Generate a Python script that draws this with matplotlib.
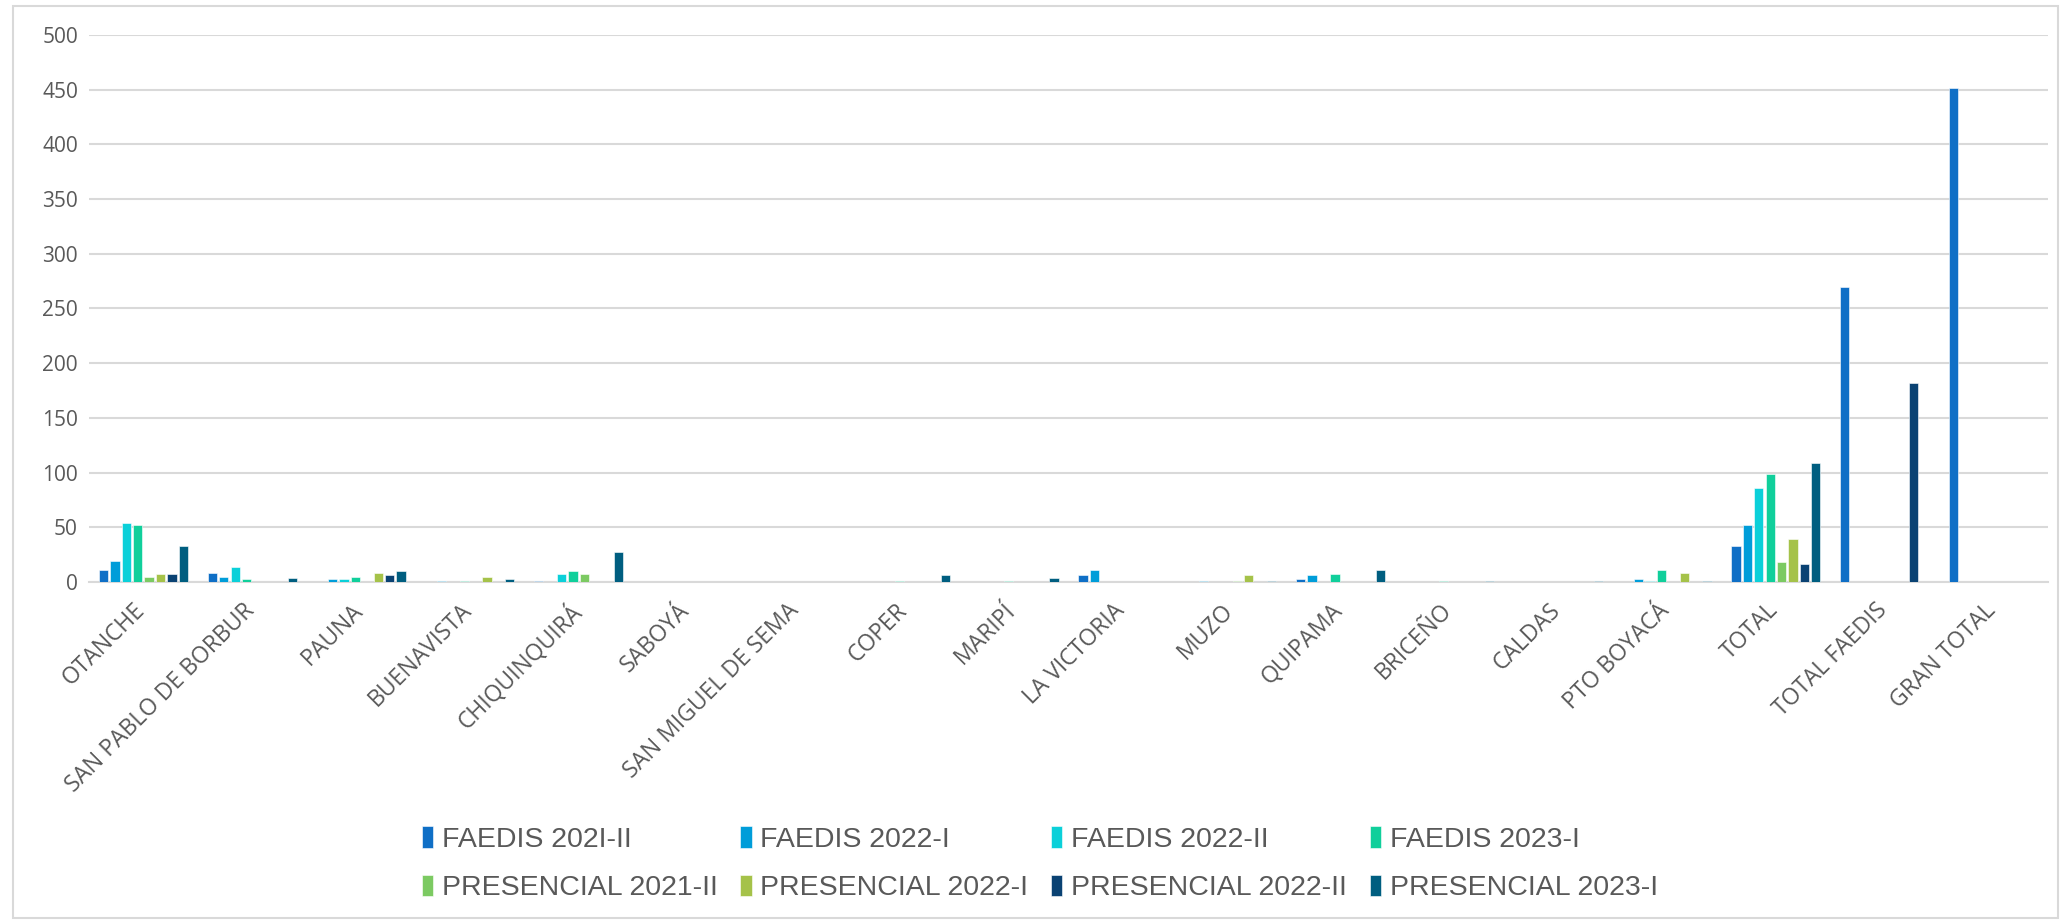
import numpy as np
import matplotlib.pyplot as plt
import matplotlib.transforms as mtransforms
from matplotlib.patches import Rectangle

categories = ["OTANCHE", "SAN PABLO DE BORBUR", "PAUNA", "BUENAVISTA", "CHIQUINQUIRÁ",
              "SABOYÁ", "SAN MIGUEL DE SEMA", "COPER", "MARIPÍ", "LA VICTORIA", "MUZO",
              "QUIPAMA", "BRICEÑO", "CALDAS", "PTO BOYACÁ", "TOTAL", "TOTAL FAEDIS",
              "GRAN TOTAL"]

series_names = ["FAEDIS 202I-II", "FAEDIS 2022-I", "FAEDIS 2022-II", "FAEDIS 2023-I",
                "PRESENCIAL 2021-II", "PRESENCIAL 2022-I", "PRESENCIAL 2022-II",
                "PRESENCIAL 2023-I"]

faedis_2021_2 = [11, 8, 0, 0, 1, 0, 0, 0, 0, 6, 0, 3, 0, 0, 0, 33, 270, 452]
faedis_2022_1 = [19, 5, 3, 1, 0, 0, 0, 0, 0, 11, 1, 6, 0, 0, 3, 52, 0, 0]
faedis_2022_2 = [54, 14, 3, 0, 7, 0, 0, 0, 0, 0, 0, 0, 0, 0, 1, 86, 0, 0]
faedis_2023_1 = [52, 3, 5, 1, 10, 0, 0, 1, 1, 0, 0, 7, 1, 0, 11, 99, 0, 0]
presencial_2021_2 = [5, 0, 0, 0, 7, 0, 0, 0, 0, 0, 1, 0, 0, 0, 0, 18, 0, 0]
presencial_2022_1 = [7, 0, 8, 5, 0, 0, 0, 0, 0, 0, 6, 0, 0, 0, 8, 39, 0, 0]
presencial_2022_2 = [7, 0, 6, 0, 0, 0, 0, 0, 0, 0, 0, 0, 0, 0, 0, 16, 182, 0]
presencial_2023_1 = [33, 4, 10, 3, 27, 0, 0, 6, 4, 0, 1, 11, 1, 1, 1, 109, 0, 0]

colors = ["#0F6FC6", "#009DD9", "#0BD0D9", "#10CF9B", "#7CCA62", "#A5C249",
          "#0A4273", "#005E80"]

all_series = [faedis_2021_2, faedis_2022_1, faedis_2022_2, faedis_2023_1,
              presencial_2021_2, presencial_2022_1, presencial_2022_2, presencial_2023_1]

fig = plt.figure(figsize=(20.63, 9.21), dpi=100)
ax = fig.add_axes([89 / 2063, 1 - 582 / 921, (2048 - 89) / 2063, (582 - 35) / 921])

x = np.arange(len(categories))
slot = 0.1047
bw = 0.085
handles = []
for k, (vals, name, c) in enumerate(zip(all_series, series_names, colors)):
    b = ax.bar(x + (k - 3.5) * slot, vals, width=bw, color=c, label=name,
               edgecolor="white", linewidth=0.4, zorder=3)
    handles.append(b)

ax.set_xlim(-0.5, len(categories) - 0.5)
ax.set_ylim(0, 500)
ax.set_yticks(np.arange(0, 501, 50))
ax.grid(axis="y", color="#D9D9D9", linewidth=1.5, zorder=0)
for s in ["top", "left", "right"]:
    ax.spines[s].set_visible(False)
ax.spines["bottom"].set_color("#D9D9D9")
ax.spines["bottom"].set_linewidth(1.5)

ax.set_xticks(x)
ax.set_xticklabels(categories, rotation=45, ha="right", rotation_mode="anchor",
                   fontsize=16.5, family="Open Sans", color="#595959")
ax.tick_params(axis="x", length=0, pad=12)
ax.tick_params(axis="y", length=0, pad=8, labelsize=15, labelcolor="#595959")
for t in ax.get_yticklabels():
    t.set_family("Open Sans")
shift = mtransforms.ScaledTranslation(-10 / 100, 0, fig.dpi_scale_trans)
for t in ax.get_xticklabels():
    t.set_transform(t.get_transform() + shift)

# legend filled row by row like the original
order = [0, 4, 1, 5, 2, 6, 3, 7]
fig.legend([handles[i] for i in order], [series_names[i] for i in order],
           ncol=4, loc="center", bbox_to_anchor=(0.504, 0.062), frameon=False,
           handlelength=0.4, handleheight=0.8, handletextpad=0.3, columnspacing=0.8,
           labelspacing=0.75, prop={"family": "Liberation Sans", "size": 20.5},
           labelcolor="#595959")

fig.patches.append(Rectangle((13 / 2063, 3 / 921), 2045 / 2063, 912 / 921,
                             transform=fig.transFigure, fill=False,
                             edgecolor="#D9D9D9", linewidth=1.5))

fig.savefig("out.png", dpi=100)
